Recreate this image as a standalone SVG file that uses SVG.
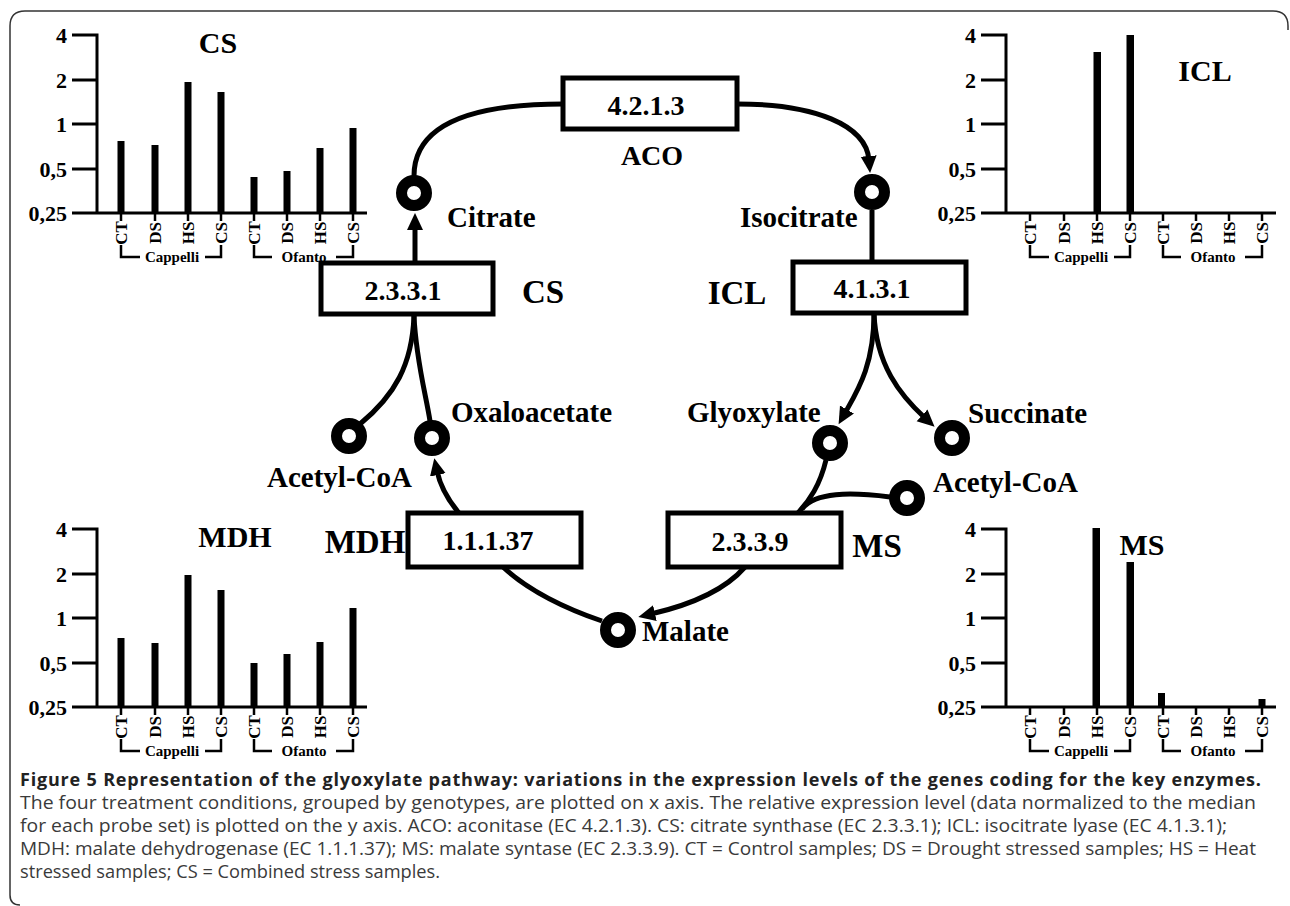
<svg xmlns="http://www.w3.org/2000/svg" width="1290" height="906" viewBox="0 0 1290 906">
<style>
.frame{fill:none;stroke:#333;stroke-width:1.5}
.ax{fill:none;stroke:#000;stroke-width:3}
.tk{fill:none;stroke:#000;stroke-width:2.5}
.s{font-family:"Liberation Serif","Times New Roman",serif;font-weight:bold;fill:#000}
.tl{font-size:22px;text-anchor:end}
.xl{font-size:17px;text-anchor:middle}
.gl{font-size:15px;text-anchor:middle}
.ct{font-size:30px;text-anchor:middle}
.bx{fill:#fff;stroke:#000;stroke-width:5}
.bt{font-size:28px;text-anchor:middle}
.en{font-size:33px;text-anchor:middle}
.met{font-size:29px}
.ring{fill:#fff;stroke:#000;stroke-width:11}
.con{fill:none;stroke:#000;stroke-width:5}
.cap{font-family:"Open Sans","Noto Sans",sans-serif;font-size:18px;fill:#3a3a3a}
.capb{font-weight:bold;fill:#222}
</style>
<defs>
<marker id="ah" markerUnits="userSpaceOnUse" markerWidth="18" markerHeight="17" refX="4" refY="8" orient="auto">
<path d="M0,0 L17,8 L0,16 z" fill="#000"/>
</marker>
<g id="axes">
<path class="ax" d="M72,35 H97 V213 H367 M72,80 H97 M72,124 H97 M72,169 H97 M72,213 H97"/>
<path class="tk" d="M121,213 V221 M155,213 V221 M188,213 V221 M221,213 V221 M254,213 V221 M287,213 V221 M320,213 V221 M353,213 V221"/>
<path class="tk" d="M121,245 V257 H140 M205,257 H221 V245 M254,245 V257 H272 M336,257 H353 V245"/>
</g>
</defs>

<path class="frame" d="M20,905 Q10,905 10,895 V26 Q10,11 25,11 H1273 Q1288,11 1288,26 V30"/>

<!-- CS chart -->
<g id="chart-cs">
<use href="#axes"/>
<g class="s tl"><text x="67" y="43">4</text><text x="67" y="88">2</text><text x="67" y="132">1</text><text x="67" y="177">0,5</text><text x="67" y="221">0,25</text></g>
<g class="s xl"><text transform="translate(127,233) rotate(-90)">CT</text><text transform="translate(161,233) rotate(-90)">DS</text><text transform="translate(194,233) rotate(-90)">HS</text><text transform="translate(227,233) rotate(-90)">CS</text><text transform="translate(260,233) rotate(-90)">CT</text><text transform="translate(293,233) rotate(-90)">DS</text><text transform="translate(326,233) rotate(-90)">HS</text><text transform="translate(359,233) rotate(-90)">CS</text></g>
<g class="s gl"><text x="172" y="262">Cappelli</text><text x="304" y="262">Ofanto</text></g>
<text class="s ct" x="218" y="53">CS</text>
<g fill="#000"><rect x="117.5" y="141" width="7" height="72"/><rect x="151.5" y="145" width="7" height="68"/><rect x="184.5" y="82" width="7" height="131"/><rect x="217.5" y="92" width="7" height="121"/><rect x="250.5" y="177" width="7" height="36"/><rect x="283.5" y="171" width="7" height="42"/><rect x="316.5" y="148" width="7" height="65"/><rect x="349.5" y="128" width="7" height="85"/></g>
</g>

<!-- ICL chart -->
<g id="chart-icl">
<g transform="translate(909,0)">
<use href="#axes"/>
<g class="s tl"><text x="67" y="43">4</text><text x="67" y="88">2</text><text x="67" y="132">1</text><text x="67" y="177">0,5</text><text x="67" y="221">0,25</text></g>
<g class="s xl"><text transform="translate(127,233) rotate(-90)">CT</text><text transform="translate(161,233) rotate(-90)">DS</text><text transform="translate(194,233) rotate(-90)">HS</text><text transform="translate(227,233) rotate(-90)">CS</text><text transform="translate(260,233) rotate(-90)">CT</text><text transform="translate(293,233) rotate(-90)">DS</text><text transform="translate(326,233) rotate(-90)">HS</text><text transform="translate(359,233) rotate(-90)">CS</text></g>
<g class="s gl"><text x="172" y="262">Cappelli</text><text x="304" y="262">Ofanto</text></g>
<g fill="#000"><rect x="184.5" y="52" width="7.5" height="161"/><rect x="217.5" y="35" width="7.5" height="178"/></g>
</g>
<text class="s ct" x="1205" y="81">ICL</text>
</g>

<!-- MDH chart -->
<g id="chart-mdh">
<g transform="translate(0,494)">
<use href="#axes"/>
<g class="s tl"><text x="67" y="43">4</text><text x="67" y="88">2</text><text x="67" y="132">1</text><text x="67" y="177">0,5</text><text x="67" y="221">0,25</text></g>
<g class="s xl"><text transform="translate(127,233) rotate(-90)">CT</text><text transform="translate(161,233) rotate(-90)">DS</text><text transform="translate(194,233) rotate(-90)">HS</text><text transform="translate(227,233) rotate(-90)">CS</text><text transform="translate(260,233) rotate(-90)">CT</text><text transform="translate(293,233) rotate(-90)">DS</text><text transform="translate(326,233) rotate(-90)">HS</text><text transform="translate(359,233) rotate(-90)">CS</text></g>
<g class="s gl"><text x="172" y="262">Cappelli</text><text x="304" y="262">Ofanto</text></g>
</g>
<text class="s ct" x="235" y="547">MDH</text>
<g fill="#000"><rect x="117.5" y="638" width="7" height="69"/><rect x="151.5" y="643" width="7" height="64"/><rect x="184.5" y="575" width="7" height="132"/><rect x="217.5" y="590" width="7" height="117"/><rect x="250.5" y="663" width="7" height="44"/><rect x="283.5" y="654" width="7" height="53"/><rect x="316.5" y="642" width="7" height="65"/><rect x="349.5" y="608" width="7" height="99"/></g>
</g>

<!-- MS chart -->
<g id="chart-ms">
<g transform="translate(909,494)">
<use href="#axes"/>
<g class="s tl"><text x="67" y="43">4</text><text x="67" y="88">2</text><text x="67" y="132">1</text><text x="67" y="177">0,5</text><text x="67" y="221">0,25</text></g>
<g class="s xl"><text transform="translate(127,233) rotate(-90)">CT</text><text transform="translate(161,233) rotate(-90)">DS</text><text transform="translate(194,233) rotate(-90)">HS</text><text transform="translate(227,233) rotate(-90)">CS</text><text transform="translate(260,233) rotate(-90)">CT</text><text transform="translate(293,233) rotate(-90)">DS</text><text transform="translate(326,233) rotate(-90)">HS</text><text transform="translate(359,233) rotate(-90)">CS</text></g>
<g class="s gl"><text x="172" y="262">Cappelli</text><text x="304" y="262">Ofanto</text></g>
</g>
<text class="s ct" x="1142" y="555">MS</text>
<g fill="#000"><rect x="1092.5" y="528" width="7.5" height="179"/><rect x="1126.5" y="562" width="7.5" height="145"/><rect x="1158" y="693" width="7" height="14"/><rect x="1258.5" y="699" width="7" height="8"/></g>
</g>

<!-- connectors -->
<g id="connectors">
<path class="con" d="M414,176 C414,125 470,104 563,104"/>
<path class="con" d="M737,104 C815,104 866,125 869,160" marker-end="url(#ah)"/>
<path class="con" d="M872,210 V262"/>
<path class="con" d="M415,263 V226" marker-end="url(#ah)"/>
<path class="con" d="M414,316 C412,365 395,395 360,424"/>
<path class="con" d="M414,316 C416,360 426,395 430,421"/>
<path class="con" d="M459,513 C448,500 440,485 437,471" marker-end="url(#ah)"/>
<path class="con" d="M874,313 C874,365 858,390 845,413" marker-end="url(#ah)"/>
<path class="con" d="M874,313 C876,365 900,395 925,418" marker-end="url(#ah)"/>
<path class="con" d="M826,460 C820,485 810,500 797,514"/>
<path class="con" d="M890,497 C850,492 815,492 802,509"/>
<path class="con" d="M745,567 C725,590 690,605 651,614" marker-end="url(#ah)"/>
<path class="con" d="M503,567 C530,592 570,610 602,621"/>
</g>

<!-- enzyme nodes -->
<g id="aco"><rect class="bx" x="563" y="78" width="174" height="51"/><text class="s bt" x="646" y="115">4.2.1.3</text><text class="s bt" x="652" y="165">ACO</text></g>
<g id="cs"><rect class="bx" x="321" y="263" width="172" height="51"/><text class="s bt" x="403" y="300">2.3.3.1</text><text class="s en" x="543" y="303">CS</text></g>
<g id="icl"><rect class="bx" x="793" y="262" width="173" height="51"/><text class="s bt" x="872" y="298">4.1.3.1</text><text class="s en" x="737" y="304">ICL</text></g>
<g id="mdh"><rect class="bx" x="408" y="513" width="173" height="54"/><text class="s bt" x="488" y="550">1.1.1.37</text><text class="s en" x="365" y="553">MDH</text></g>
<g id="ms"><rect class="bx" x="668" y="513" width="173" height="54"/><text class="s bt" x="750" y="551">2.3.3.9</text><text class="s en" x="877" y="557">MS</text></g>

<!-- metabolite nodes -->
<g id="citrate"><circle class="ring" cx="414" cy="193" r="12.5"/><text class="s met" x="447" y="227">Citrate</text></g>
<g id="isocitrate"><circle class="ring" cx="872" cy="192" r="12.5"/><text class="s met" x="740" y="227">Isocitrate</text></g>
<g id="oxaloacetate"><circle class="ring" cx="432" cy="438" r="12.5"/><text class="s met" x="451" y="422">Oxaloacetate</text></g>
<g id="acetylcoa-left"><circle class="ring" cx="349" cy="436" r="12.5"/><text class="s met" x="267" y="487">Acetyl-CoA</text></g>
<g id="glyoxylate"><circle class="ring" cx="830" cy="443" r="12.5"/><text class="s met" x="687" y="422">Glyoxylate</text></g>
<g id="succinate"><circle class="ring" cx="952" cy="438" r="12.5"/><text class="s met" x="968" y="423">Succinate</text></g>
<g id="acetylcoa-right"><circle class="ring" cx="907" cy="498" r="12.5"/><text class="s met" x="933" y="492">Acetyl-CoA</text></g>
<g id="malate"><circle class="ring" cx="618" cy="630" r="12.5"/><text class="s met" x="642" y="641">Malate</text></g>

<!-- caption -->
<g id="caption">
<text class="cap capb" x="20" y="786" textLength="1241" lengthAdjust="spacing">Figure 5 Representation of the glyoxylate pathway: variations in the expression levels of the genes coding for the key enzymes.</text>
<text class="cap" x="20" y="809" textLength="1236" lengthAdjust="spacingAndGlyphs">The four treatment conditions, grouped by genotypes, are plotted on x axis. The relative expression level (data normalized to the median</text>
<text class="cap" x="20" y="832" textLength="1207" lengthAdjust="spacingAndGlyphs">for each probe set) is plotted on the y axis. ACO: aconitase (EC 4.2.1.3). CS: citrate synthase (EC 2.3.3.1); ICL: isocitrate lyase (EC 4.1.3.1);</text>
<text class="cap" x="20" y="855" textLength="1236" lengthAdjust="spacingAndGlyphs">MDH: malate dehydrogenase (EC 1.1.1.37); MS: malate syntase (EC 2.3.3.9). CT = Control samples; DS = Drought stressed samples; HS = Heat</text>
<text class="cap" x="20" y="878" textLength="420" lengthAdjust="spacingAndGlyphs">stressed samples; CS = Combined stress samples.</text>
</g>
</svg>
